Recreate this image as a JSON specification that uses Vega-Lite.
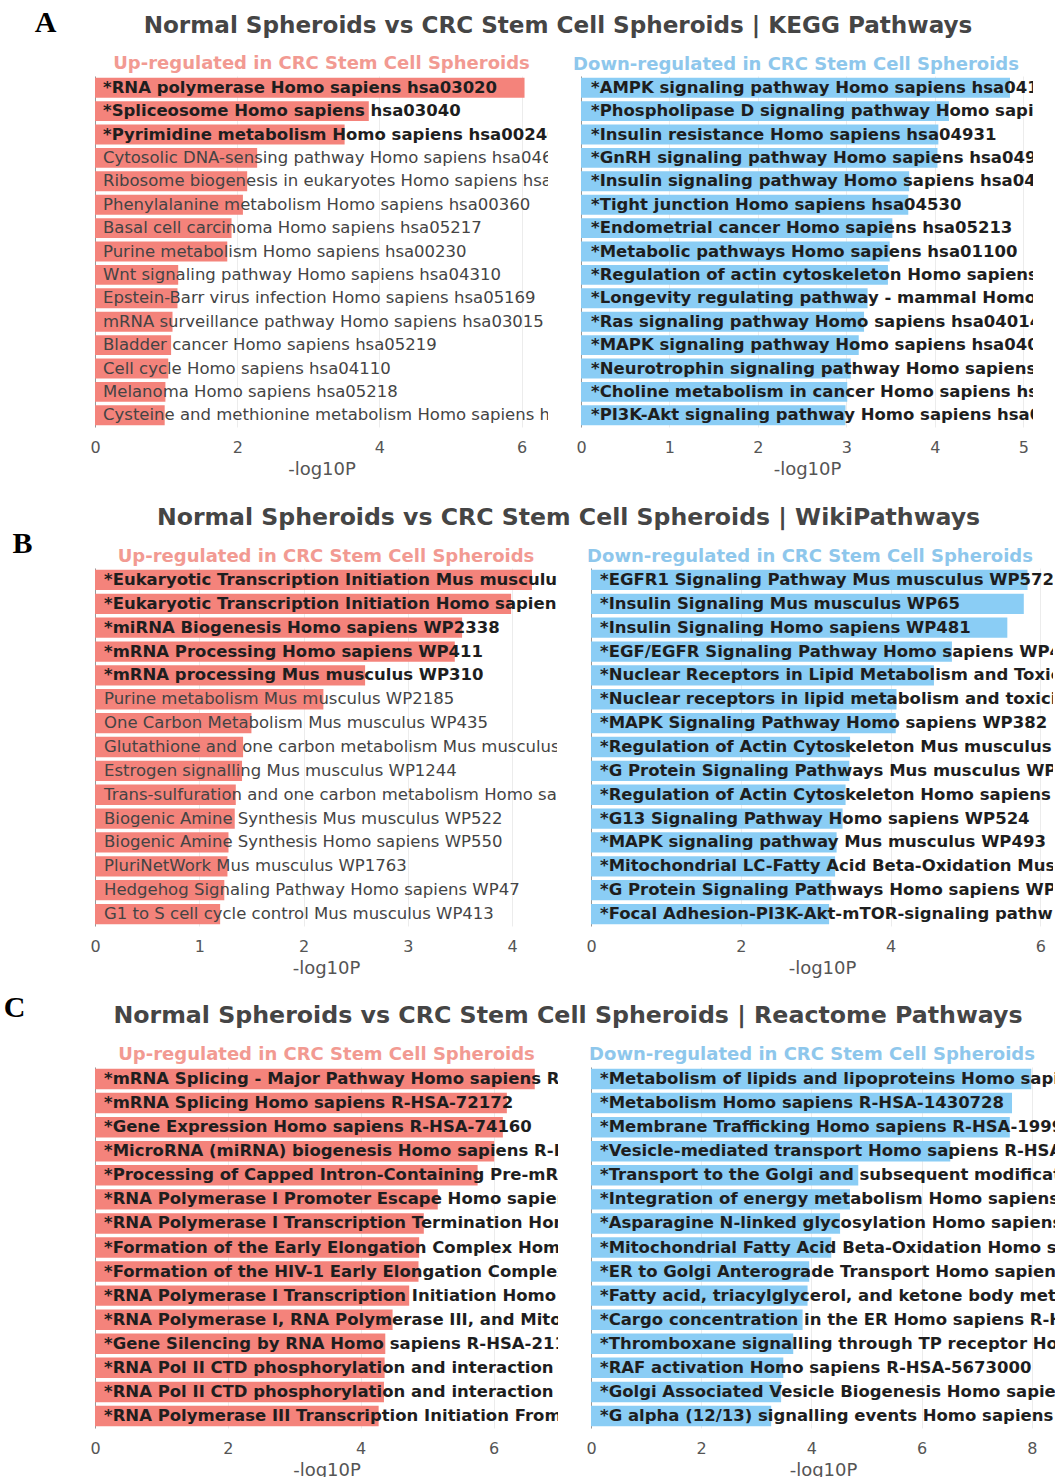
{
  "$schema": "https://vega.github.io/schema/vega-lite/v6.json",
  "padding": {"left": 3, "top": 7, "right": 3, "bottom": 0},
  "columns": 2,
  "bounds": "flush",
  "align": "none",
  "spacing": {"row": 141, "column": 33},
  "datasets": {
    "keggUp": [
      {"term": "*RNA polymerase Homo sapiens hsa03020", "v": 6.04, "sig": true},
      {"term": "*Spliceosome Homo sapiens hsa03040", "v": 3.85, "sig": true},
      {"term": "*Pyrimidine metabolism Homo sapiens hsa00240", "v": 3.51, "sig": true},
      {"term": "Cytosolic DNA-sensing pathway Homo sapiens hsa04623", "v": 2.28, "sig": false},
      {"term": "Ribosome biogenesis in eukaryotes Homo sapiens hsa03008", "v": 2.14, "sig": false},
      {"term": "Phenylalanine metabolism Homo sapiens hsa00360", "v": 2.08, "sig": false},
      {"term": "Basal cell carcinoma Homo sapiens hsa05217", "v": 1.92, "sig": false},
      {"term": "Purine metabolism Homo sapiens hsa00230", "v": 1.86, "sig": false},
      {"term": "Wnt signaling pathway Homo sapiens hsa04310", "v": 1.17, "sig": false},
      {"term": "Epstein-Barr virus infection Homo sapiens hsa05169", "v": 1.16, "sig": false},
      {"term": "mRNA surveillance pathway Homo sapiens hsa03015", "v": 1.09, "sig": false},
      {"term": "Bladder cancer Homo sapiens hsa05219", "v": 1.07, "sig": false},
      {"term": "Cell cycle Homo sapiens hsa04110", "v": 1.03, "sig": false},
      {"term": "Melanoma Homo sapiens hsa05218", "v": 0.99, "sig": false},
      {"term": "Cysteine and methionine metabolism Homo sapiens hsa00270", "v": 0.98, "sig": false}
    ],
    "keggDown": [
      {"term": "*AMPK signaling pathway Homo sapiens hsa04152", "v": 4.85, "sig": true},
      {"term": "*Phospholipase D signaling pathway Homo sapiens hsa04072", "v": 4.16, "sig": true},
      {"term": "*Insulin resistance Homo sapiens hsa04931", "v": 4.04, "sig": true},
      {"term": "*GnRH signaling pathway Homo sapiens hsa04912", "v": 4.03, "sig": true},
      {"term": "*Insulin signaling pathway Homo sapiens hsa04910", "v": 3.71, "sig": true},
      {"term": "*Tight junction Homo sapiens hsa04530", "v": 3.70, "sig": true},
      {"term": "*Endometrial cancer Homo sapiens hsa05213", "v": 3.52, "sig": true},
      {"term": "*Metabolic pathways Homo sapiens hsa01100", "v": 3.49, "sig": true},
      {"term": "*Regulation of actin cytoskeleton Homo sapiens hsa04810", "v": 3.47, "sig": true},
      {"term": "*Longevity regulating pathway - mammal Homo sapiens hsa04211", "v": 3.24, "sig": true},
      {"term": "*Ras signaling pathway Homo sapiens hsa04014", "v": 3.20, "sig": true},
      {"term": "*MAPK signaling pathway Homo sapiens hsa04010", "v": 3.14, "sig": true},
      {"term": "*Neurotrophin signaling pathway Homo sapiens hsa04722", "v": 3.05, "sig": true},
      {"term": "*Choline metabolism in cancer Homo sapiens hsa05231", "v": 3.01, "sig": true},
      {"term": "*PI3K-Akt signaling pathway Homo sapiens hsa04151", "v": 2.99, "sig": true}
    ],
    "wikiUp": [
      {"term": "*Eukaryotic Transcription Initiation Mus musculus WP567", "v": 4.19, "sig": true},
      {"term": "*Eukaryotic Transcription Initiation Homo sapiens WP405", "v": 3.99, "sig": true},
      {"term": "*miRNA Biogenesis Homo sapiens WP2338", "v": 3.52, "sig": true},
      {"term": "*mRNA Processing Homo sapiens WP411", "v": 3.45, "sig": true},
      {"term": "*mRNA processing Mus musculus WP310", "v": 2.59, "sig": true},
      {"term": "Purine metabolism Mus musculus WP2185", "v": 2.19, "sig": false},
      {"term": "One Carbon Metabolism Mus musculus WP435", "v": 1.50, "sig": false},
      {"term": "Glutathione and one carbon metabolism Mus musculus WP1770", "v": 1.42, "sig": false},
      {"term": "Estrogen signalling Mus musculus WP1244", "v": 1.41, "sig": false},
      {"term": "Trans-sulfuration and one carbon metabolism Homo sapiens WP2525", "v": 1.35, "sig": false},
      {"term": "Biogenic Amine Synthesis Mus musculus WP522", "v": 1.34, "sig": false},
      {"term": "Biogenic Amine Synthesis Homo sapiens WP550", "v": 1.28, "sig": false},
      {"term": "PluriNetWork Mus musculus WP1763", "v": 1.27, "sig": false},
      {"term": "Hedgehog Signaling Pathway Homo sapiens WP47", "v": 1.24, "sig": false},
      {"term": "G1 to S cell cycle control Mus musculus WP413", "v": 1.20, "sig": false}
    ],
    "wikiDown": [
      {"term": "*EGFR1 Signaling Pathway Mus musculus WP572", "v": 5.83, "sig": true},
      {"term": "*Insulin Signaling Mus musculus WP65", "v": 5.78, "sig": true},
      {"term": "*Insulin Signaling Homo sapiens WP481", "v": 5.56, "sig": true},
      {"term": "*EGF/EGFR Signaling Pathway Homo sapiens WP437", "v": 4.82, "sig": true},
      {"term": "*Nuclear Receptors in Lipid Metabolism and Toxicity Mus musculus WP431", "v": 4.58, "sig": true},
      {"term": "*Nuclear receptors in lipid metabolism and toxicity Homo sapiens WP299", "v": 4.08, "sig": true},
      {"term": "*MAPK Signaling Pathway Homo sapiens WP382", "v": 4.07, "sig": true},
      {"term": "*Regulation of Actin Cytoskeleton Mus musculus WP523", "v": 3.46, "sig": true},
      {"term": "*G Protein Signaling Pathways Mus musculus WP232", "v": 3.45, "sig": true},
      {"term": "*Regulation of Actin Cytoskeleton Homo sapiens WP51", "v": 3.40, "sig": true},
      {"term": "*G13 Signaling Pathway Homo sapiens WP524", "v": 3.36, "sig": true},
      {"term": "*MAPK signaling pathway Mus musculus WP493", "v": 3.28, "sig": true},
      {"term": "*Mitochondrial LC-Fatty Acid Beta-Oxidation Mus musculus WP401", "v": 3.26, "sig": true},
      {"term": "*G Protein Signaling Pathways Homo sapiens WP35", "v": 3.21, "sig": true},
      {"term": "*Focal Adhesion-PI3K-Akt-mTOR-signaling pathway Mus musculus WP2841", "v": 3.18, "sig": true}
    ],
    "reactUp": [
      {"term": "*mRNA Splicing - Major Pathway Homo sapiens R-HSA-72163", "v": 6.62, "sig": true},
      {"term": "*mRNA Splicing Homo sapiens R-HSA-72172", "v": 6.20, "sig": true},
      {"term": "*Gene Expression Homo sapiens R-HSA-74160", "v": 6.14, "sig": true},
      {"term": "*MicroRNA (miRNA) biogenesis Homo sapiens R-HSA-203927", "v": 6.01, "sig": true},
      {"term": "*Processing of Capped Intron-Containing Pre-mRNA Homo sapiens R-HSA-72203", "v": 5.76, "sig": true},
      {"term": "*RNA Polymerase I Promoter Escape Homo sapiens R-HSA-73772", "v": 5.16, "sig": true},
      {"term": "*RNA Polymerase I Transcription Termination Homo sapiens R-HSA-73863", "v": 4.95, "sig": true},
      {"term": "*Formation of the Early Elongation Complex Homo sapiens R-HSA-113418", "v": 4.88, "sig": true},
      {"term": "*Formation of the HIV-1 Early Elongation Complex Homo sapiens R-HSA-167158", "v": 4.87, "sig": true},
      {"term": "*RNA Polymerase I Transcription Initiation Homo sapiens R-HSA-73762", "v": 4.73, "sig": true},
      {"term": "*RNA Polymerase I, RNA Polymerase III, and Mitochondrial Transcription Homo sapiens R-HSA-504046", "v": 4.48, "sig": true},
      {"term": "*Gene Silencing by RNA Homo sapiens R-HSA-211000", "v": 4.37, "sig": true},
      {"term": "*RNA Pol II CTD phosphorylation and interaction with CE Homo sapiens R-HSA-77075", "v": 4.36, "sig": true},
      {"term": "*RNA Pol II CTD phosphorylation and interaction with CE during HIV infection Homo sapiens R-HSA-167160", "v": 4.35, "sig": true},
      {"term": "*RNA Polymerase III Transcription Initiation From Type 1 Promoter Homo sapiens R-HSA-76061", "v": 4.27, "sig": true}
    ],
    "reactDown": [
      {"term": "*Metabolism of lipids and lipoproteins Homo sapiens R-HSA-556833", "v": 7.99, "sig": true},
      {"term": "*Metabolism Homo sapiens R-HSA-1430728", "v": 7.64, "sig": true},
      {"term": "*Membrane Trafficking Homo sapiens R-HSA-199991", "v": 7.60, "sig": true},
      {"term": "*Vesicle-mediated transport Homo sapiens R-HSA-5653656", "v": 6.52, "sig": true},
      {"term": "*Transport to the Golgi and subsequent modification Homo sapiens R-HSA-948021", "v": 4.85, "sig": true},
      {"term": "*Integration of energy metabolism Homo sapiens R-HSA-163685", "v": 4.70, "sig": true},
      {"term": "*Asparagine N-linked glycosylation Homo sapiens R-HSA-446203", "v": 4.52, "sig": true},
      {"term": "*Mitochondrial Fatty Acid Beta-Oxidation Homo sapiens R-HSA-77289", "v": 4.36, "sig": true},
      {"term": "*ER to Golgi Anterograde Transport Homo sapiens R-HSA-199977", "v": 3.96, "sig": true},
      {"term": "*Fatty acid, triacylglycerol, and ketone body metabolism Homo sapiens R-HSA-535734", "v": 3.93, "sig": true},
      {"term": "*Cargo concentration in the ER Homo sapiens R-HSA-5694530", "v": 3.84, "sig": true},
      {"term": "*Thromboxane signalling through TP receptor Homo sapiens R-HSA-428930", "v": 3.67, "sig": true},
      {"term": "*RAF activation Homo sapiens R-HSA-5673000", "v": 3.49, "sig": true},
      {"term": "*Golgi Associated Vesicle Biogenesis Homo sapiens R-HSA-432722", "v": 3.45, "sig": true},
      {"term": "*G alpha (12/13) signalling events Homo sapiens R-HSA-416482", "v": 3.27, "sig": true}
    ]
  },
  "concat": [
    {
      "width": 453, "height": 351,
      "data": {"name": "keggUp"},
      "title": {"text": "Up-regulated in CRC Stem Cell Spheroids", "fontSize": 18, "fontWeight": "bold", "color": "#f29a92", "anchor": "middle", "frame": "group", "offset": -66},
      "encoding": {"y": {"field": "term", "type": "nominal", "sort": {"field": "v", "op": "max", "order": "descending"}, "scale": {"paddingInner": 0.15, "paddingOuter": 0.075}, "axis": {"title": "A", "titleAngle": 0, "titleFont": "Liberation Serif", "titleFontSize": 30, "titleFontWeight": "bold", "titleColor": "#000", "titleX": -50, "titleY": -54, "titleAlign": "center", "titleBaseline": "middle"}}},
      "layer": [
        {"mark": {"type": "bar", "color": "#f4837b"}, "encoding": {"x": {"field": "v", "type": "quantitative", "title": "-log10P", "scale": {"domain": [0, 6.37], "nice": false}, "axis": {"values": [0, 2, 4, 6], "title": "-log10P"}}}},
        {"transform": [{"filter": "datum.sig"}], "mark": {"type": "text", "align": "left", "baseline": "middle", "dx": 8, "clip": true, "fontSize": 16.5, "fontWeight": "bold", "color": "#1e1e1e"}, "encoding": {"x": {"datum": 0, "type": "quantitative"}, "text": {"field": "term"}}},
        {"transform": [{"filter": "!datum.sig"}], "mark": {"type": "text", "align": "left", "baseline": "middle", "dx": 8, "clip": true, "fontSize": 16.5, "fontWeight": "normal", "color": "#444"}, "encoding": {"x": {"datum": 0, "type": "quantitative"}, "text": {"field": "term"}}}
      ]
    },
    {
      "width": 442, "height": 351,
      "data": {"name": "keggDown"},
      "title": {"text": "Down-regulated in CRC Stem Cell Spheroids", "fontSize": 18, "fontWeight": "bold", "color": "#8ec7ec", "anchor": "middle", "frame": "group", "offset": -60, "dx": -16},
      "encoding": {"y": {"field": "term", "type": "nominal", "sort": {"field": "v", "op": "max", "order": "descending"}, "scale": {"paddingInner": 0.15, "paddingOuter": 0.075}, "axis": {"offset": 10, "title": "Normal Spheroids vs CRC Stem Cell Spheroids | KEGG Pathways", "titleAngle": 0, "titleFont": "DejaVu Sans", "titleFontSize": 23.1, "titleFontWeight": "bold", "titleColor": "#454545", "titleX": -23.5, "titleY": -51, "titleAlign": "center", "titleBaseline": "middle", "titleLimit": 2000}}},
      "layer": [
        {"mark": {"type": "bar", "color": "#8acdf5"}, "encoding": {"x": {"field": "v", "type": "quantitative", "title": "-log10P", "scale": {"domain": [0, 5.11], "nice": false, "range": [-10, 442]}, "axis": {"values": [0, 1, 2, 3, 4, 5], "title": "-log10P"}}}},
        {"transform": [{"filter": "datum.sig"}], "mark": {"type": "text", "align": "left", "baseline": "middle", "dx": 10, "clip": true, "fontSize": 16.5, "fontWeight": "bold", "color": "#1e1e1e"}, "encoding": {"x": {"datum": 0, "type": "quantitative"}, "text": {"field": "term"}}}
      ]
    },
    {
      "width": 462, "height": 358,
      "data": {"name": "wikiUp"},
      "title": {"text": "Up-regulated in CRC Stem Cell Spheroids", "fontSize": 18, "fontWeight": "bold", "color": "#f29a92", "anchor": "middle", "frame": "group", "offset": -38},
      "encoding": {"y": {"field": "term", "type": "nominal", "sort": {"field": "v", "op": "max", "order": "descending"}, "scale": {"paddingInner": 0.15, "paddingOuter": 0.075}, "axis": {"title": "B", "titleAngle": 0, "titleFont": "Liberation Serif", "titleFontSize": 30, "titleFontWeight": "bold", "titleColor": "#000", "titleX": -73, "titleY": -25, "titleAlign": "center", "titleBaseline": "middle"}}},
      "layer": [
        {"mark": {"type": "bar", "color": "#f4837b"}, "encoding": {"x": {"field": "v", "type": "quantitative", "title": "-log10P", "scale": {"domain": [0, 4.43], "nice": false}, "axis": {"values": [0, 1, 2, 3, 4], "title": "-log10P"}}}},
        {"transform": [{"filter": "datum.sig"}], "mark": {"type": "text", "align": "left", "baseline": "middle", "dx": 9, "clip": true, "fontSize": 16.5, "fontWeight": "bold", "color": "#1e1e1e"}, "encoding": {"x": {"datum": 0, "type": "quantitative"}, "text": {"field": "term"}}},
        {"transform": [{"filter": "!datum.sig"}], "mark": {"type": "text", "align": "left", "baseline": "middle", "dx": 9, "clip": true, "fontSize": 16.5, "fontWeight": "normal", "color": "#444"}, "encoding": {"x": {"datum": 0, "type": "quantitative"}, "text": {"field": "term"}}}
      ]
    },
    {
      "width": 462, "height": 358,
      "data": {"name": "wikiDown"},
      "title": {"text": "Down-regulated in CRC Stem Cell Spheroids", "fontSize": 18, "fontWeight": "bold", "color": "#8ec7ec", "anchor": "middle", "frame": "group", "offset": -61, "dx": -12},
      "encoding": {"y": {"field": "term", "type": "nominal", "sort": {"field": "v", "op": "max", "order": "descending"}, "scale": {"paddingInner": 0.15, "paddingOuter": 0.075}, "axis": {"title": "Normal Spheroids vs CRC Stem Cell Spheroids | WikiPathways", "titleAngle": 0, "titleFont": "DejaVu Sans", "titleFontSize": 23.6, "titleFontWeight": "bold", "titleColor": "#454545", "titleX": -23, "titleY": -51, "titleAlign": "center", "titleBaseline": "middle", "titleLimit": 2000}}},
      "layer": [
        {"mark": {"type": "bar", "color": "#8acdf5"}, "encoding": {"x": {"field": "v", "type": "quantitative", "title": "-log10P", "scale": {"domain": [0, 6.17], "nice": false}, "axis": {"values": [0, 2, 4, 6], "title": "-log10P"}}}},
        {"transform": [{"filter": "datum.sig"}], "mark": {"type": "text", "align": "left", "baseline": "middle", "dx": 9, "clip": true, "fontSize": 16.5, "fontWeight": "bold", "color": "#1e1e1e"}, "encoding": {"x": {"datum": 0, "type": "quantitative"}, "text": {"field": "term"}}}
      ]
    },
    {
      "width": 463, "height": 361,
      "data": {"name": "reactUp"},
      "title": {"text": "Up-regulated in CRC Stem Cell Spheroids", "fontSize": 18, "fontWeight": "bold", "color": "#f29a92", "anchor": "middle", "frame": "group", "offset": -72},
      "encoding": {"y": {"field": "term", "type": "nominal", "sort": {"field": "v", "op": "max", "order": "descending"}, "scale": {"paddingInner": 0.15, "paddingOuter": 0.075}, "axis": {"title": "C", "titleAngle": 0, "titleFont": "Liberation Serif", "titleFontSize": 30, "titleFontWeight": "bold", "titleColor": "#000", "titleX": -81, "titleY": -60, "titleAlign": "center", "titleBaseline": "middle"}}},
      "layer": [
        {"mark": {"type": "bar", "color": "#f4837b"}, "encoding": {"x": {"field": "v", "type": "quantitative", "title": "-log10P", "scale": {"domain": [0, 6.97], "nice": false}, "axis": {"values": [0, 2, 4, 6], "title": "-log10P"}}}},
        {"transform": [{"filter": "datum.sig"}], "mark": {"type": "text", "align": "left", "baseline": "middle", "dx": 9, "clip": true, "fontSize": 16.5, "fontWeight": "bold", "color": "#1e1e1e"}, "encoding": {"x": {"datum": 0, "type": "quantitative"}, "text": {"field": "term"}}}
      ]
    },
    {
      "width": 464, "height": 361,
      "data": {"name": "reactDown"},
      "title": {"text": "Down-regulated in CRC Stem Cell Spheroids", "fontSize": 18, "fontWeight": "bold", "color": "#8ec7ec", "anchor": "middle", "frame": "group", "offset": -61, "dx": -11},
      "encoding": {"y": {"field": "term", "type": "nominal", "sort": {"field": "v", "op": "max", "order": "descending"}, "scale": {"paddingInner": 0.15, "paddingOuter": 0.075}, "axis": {"title": "Normal Spheroids vs CRC Stem Cell Spheroids | Reactome Pathways", "titleAngle": 0, "titleFont": "DejaVu Sans", "titleFontSize": 23.7, "titleFontWeight": "bold", "titleColor": "#454545", "titleX": -23.5, "titleY": -52, "titleAlign": "center", "titleBaseline": "middle", "titleLimit": 2000}}},
      "layer": [
        {"mark": {"type": "bar", "color": "#8acdf5"}, "encoding": {"x": {"field": "v", "type": "quantitative", "title": "-log10P", "scale": {"domain": [0, 8.42], "nice": false}, "axis": {"values": [0, 2, 4, 6, 8], "title": "-log10P"}}}},
        {"transform": [{"filter": "datum.sig"}], "mark": {"type": "text", "align": "left", "baseline": "middle", "dx": 9, "clip": true, "fontSize": 16.5, "fontWeight": "bold", "color": "#1e1e1e"}, "encoding": {"x": {"datum": 0, "type": "quantitative"}, "text": {"field": "term"}}}
      ]
    }
  ],
  "config": {
    "font": "DejaVu Sans",
    "view": {"stroke": null},
    "axis": {"labelFont": "DejaVu Sans", "titleFont": "DejaVu Sans"},
    "axisX": {"grid": true, "gridColor": "#ececec", "domain": false, "ticks": false, "tickSize": 0, "labelPadding": 12, "labelFontSize": 16, "labelColor": "#555", "labelFlush": false, "format": "d", "titleFontSize": 18, "titleFontWeight": "normal", "titleColor": "#555", "titlePadding": 5},
    "axisY": {"grid": false, "labels": false, "ticks": false, "domainColor": "#999"},
    "title": {"font": "DejaVu Sans"}
  }
}
